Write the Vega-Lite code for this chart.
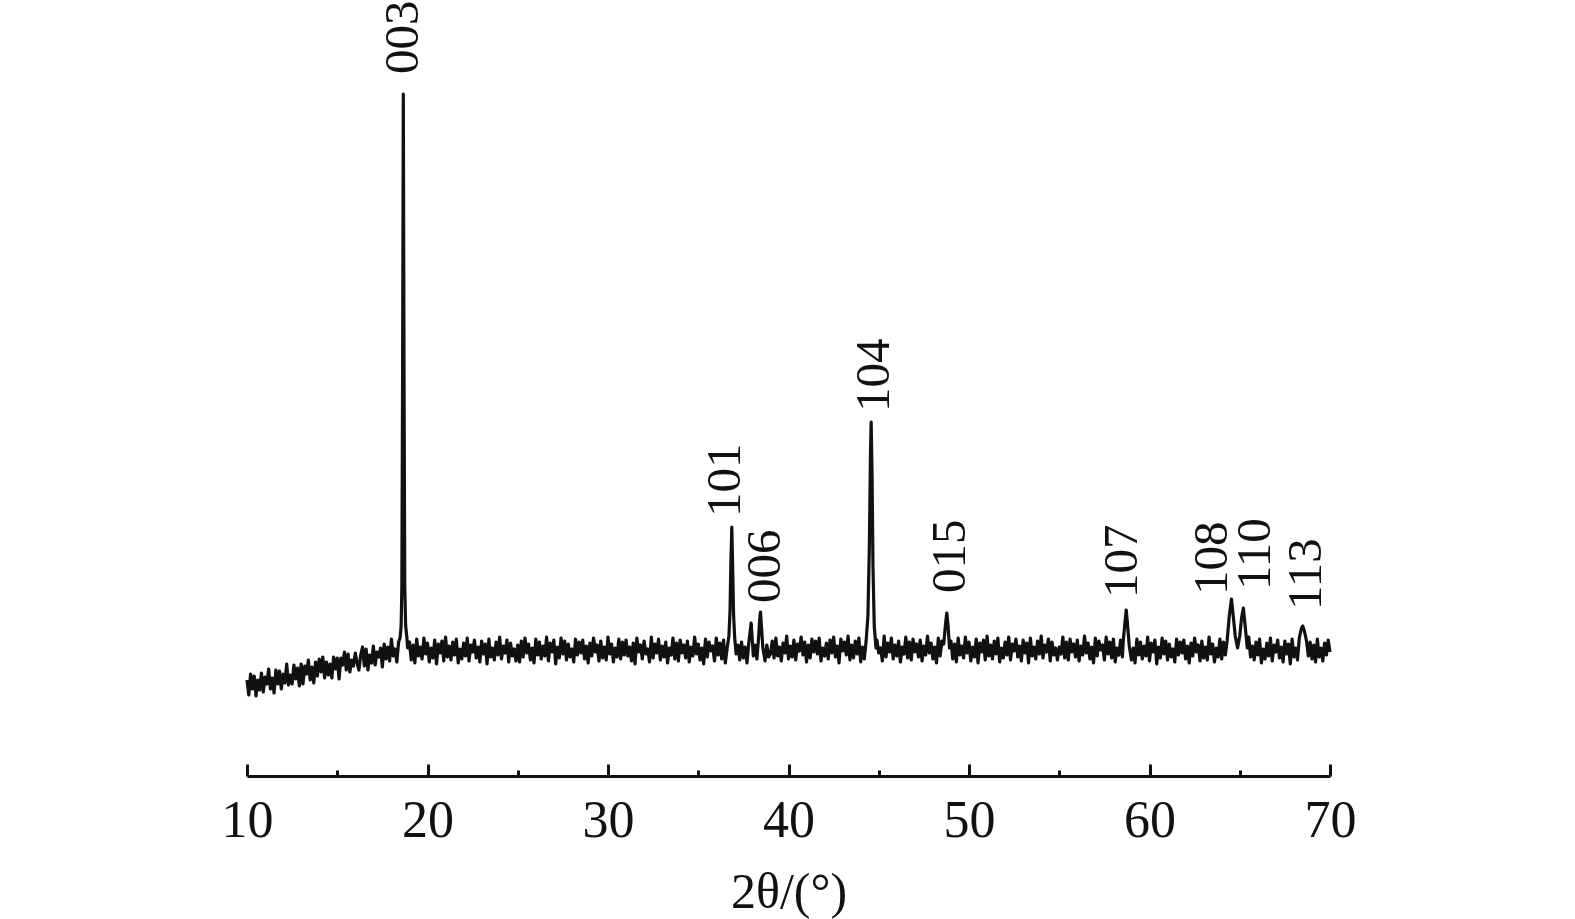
{
"$schema": "https://vega.github.io/schema/vega-lite/v6.json",
"width": 1083, "height": 700,
"autosize": {"type": "none"},
"padding": {"left": 247, "top": 76, "right": 245, "bottom": 143},
"background": "white",
"config": {"view": {"stroke": null}, "font": "Liberation Serif"},
"layer": [
{"data": {"values": [
{"t":10.0,"i":96},{"t":10.1,"i":81},{"t":10.2,"i":102},{"t":10.3,"i":87},{"t":10.4,"i":100},{"t":10.5,"i":80},{"t":10.6,"i":96},{"t":10.7,"i":86},{"t":10.8,"i":103},{"t":10.9,"i":84},
{"t":11.0,"i":99},{"t":11.1,"i":92},{"t":11.2,"i":107},{"t":11.3,"i":87},{"t":11.4,"i":98},{"t":11.5,"i":83},{"t":11.6,"i":106},{"t":11.7,"i":92},{"t":11.8,"i":105},{"t":11.9,"i":87},
{"t":12.0,"i":102},{"t":12.1,"i":93},{"t":12.2,"i":112},{"t":12.3,"i":91},{"t":12.4,"i":101},{"t":12.5,"i":92},{"t":12.6,"i":111},{"t":12.7,"i":97},{"t":12.8,"i":108},{"t":12.9,"i":90},
{"t":13.0,"i":112},{"t":13.1,"i":92},{"t":13.2,"i":110},{"t":13.3,"i":102},{"t":13.4,"i":116},{"t":13.5,"i":96},{"t":13.6,"i":109},{"t":13.7,"i":93},{"t":13.8,"i":114},{"t":13.9,"i":100},
{"t":14.0,"i":117},{"t":14.1,"i":104},{"t":14.2,"i":119},{"t":14.3,"i":98},{"t":14.4,"i":114},{"t":14.5,"i":101},{"t":14.6,"i":112},{"t":14.7,"i":98},{"t":14.8,"i":119},{"t":14.9,"i":107},
{"t":15.0,"i":118},{"t":15.1,"i":97},{"t":15.2,"i":118},{"t":15.3,"i":111},{"t":15.4,"i":124},{"t":15.5,"i":106},{"t":15.6,"i":122},{"t":15.7,"i":104},{"t":15.8,"i":116},{"t":15.9,"i":110},
{"t":16.0,"i":123},{"t":16.1,"i":113},{"t":16.2,"i":106},{"t":16.3,"i":121},{"t":16.4,"i":129},{"t":16.5,"i":110},{"t":16.6,"i":127},{"t":16.7,"i":106},{"t":16.8,"i":121},{"t":16.9,"i":113},
{"t":17.0,"i":130},{"t":17.1,"i":111},{"t":17.2,"i":124},{"t":17.3,"i":119},{"t":17.4,"i":128},{"t":17.5,"i":109},{"t":17.6,"i":132},{"t":17.7,"i":117},{"t":17.8,"i":129},{"t":17.9,"i":115},
{"t":18.0,"i":137},{"t":18.1,"i":120},{"t":18.2,"i":127},{"t":18.3,"i":114},{"t":18.4,"i":134},
{"t":18.48,"i":138},{"t":18.54,"i":150},{"t":18.58,"i":190},{"t":18.62,"i":400},{"t":18.66,"i":682},{"t":18.7,"i":400},{"t":18.74,"i":190},{"t":18.79,"i":150},{"t":18.85,"i":140},{"t":18.9,"i":128},
{"t":19.0,"i":134},{"t":19.1,"i":116},{"t":19.2,"i":131},{"t":19.3,"i":113},{"t":19.4,"i":137},{"t":19.5,"i":120},{"t":19.6,"i":129},{"t":19.7,"i":117},{"t":19.8,"i":138},{"t":19.9,"i":122},
{"t":20.0,"i":133},{"t":20.1,"i":114},{"t":20.2,"i":128},{"t":20.3,"i":118},{"t":20.4,"i":136},{"t":20.5,"i":112},{"t":20.6,"i":132},{"t":20.7,"i":123},{"t":20.8,"i":135},{"t":20.9,"i":115},
{"t":21.0,"i":139},{"t":21.1,"i":119},{"t":21.2,"i":130},{"t":21.3,"i":116},{"t":21.4,"i":134},{"t":21.5,"i":121},{"t":21.6,"i":137},{"t":21.7,"i":113},{"t":21.8,"i":127},{"t":21.9,"i":117},
{"t":22.0,"i":133},{"t":22.1,"i":120},{"t":22.2,"i":138},{"t":22.3,"i":115},{"t":22.4,"i":131},{"t":22.5,"i":124},{"t":22.6,"i":136},{"t":22.7,"i":118},{"t":22.8,"i":129},{"t":22.9,"i":114},
{"t":23.0,"i":135},{"t":23.1,"i":122},{"t":23.2,"i":132},{"t":23.3,"i":112},{"t":23.4,"i":137},{"t":23.5,"i":119},{"t":23.6,"i":128},{"t":23.7,"i":116},{"t":23.8,"i":134},{"t":23.9,"i":121},
{"t":24.0,"i":139},{"t":24.1,"i":117},{"t":24.2,"i":130},{"t":24.3,"i":123},{"t":24.4,"i":136},{"t":24.5,"i":114},{"t":24.6,"i":133},{"t":24.7,"i":120},{"t":24.8,"i":127},{"t":24.9,"i":115},
{"t":25.0,"i":131},{"t":25.1,"i":114},{"t":25.2,"i":135},{"t":25.3,"i":119},{"t":25.4,"i":138},{"t":25.5,"i":123},{"t":25.6,"i":132},{"t":25.7,"i":116},{"t":25.8,"i":128},{"t":25.9,"i":113},
{"t":26.0,"i":137},{"t":26.1,"i":121},{"t":26.2,"i":134},{"t":26.3,"i":117},{"t":26.4,"i":130},{"t":26.5,"i":120},{"t":26.6,"i":139},{"t":26.7,"i":115},{"t":26.8,"i":133},{"t":26.9,"i":124},
{"t":27.0,"i":136},{"t":27.1,"i":112},{"t":27.2,"i":129},{"t":27.3,"i":118},{"t":27.4,"i":138},{"t":27.5,"i":122},{"t":27.6,"i":135},{"t":27.7,"i":116},{"t":27.8,"i":132},{"t":27.9,"i":119},
{"t":28.0,"i":127},{"t":28.1,"i":114},{"t":28.2,"i":137},{"t":28.3,"i":121},{"t":28.4,"i":134},{"t":28.5,"i":123},{"t":28.6,"i":136},{"t":28.7,"i":117},{"t":28.8,"i":130},{"t":28.9,"i":113},
{"t":29.0,"i":133},{"t":29.1,"i":120},{"t":29.2,"i":138},{"t":29.3,"i":124},{"t":29.4,"i":131},{"t":29.5,"i":115},{"t":29.6,"i":135},{"t":29.7,"i":118},{"t":29.8,"i":129},{"t":29.9,"i":116},
{"t":30.0,"i":139},{"t":30.1,"i":122},{"t":30.2,"i":132},{"t":30.3,"i":114},{"t":30.4,"i":128},{"t":30.5,"i":119},{"t":30.6,"i":137},{"t":30.7,"i":117},{"t":30.8,"i":134},{"t":30.9,"i":121},
{"t":31.0,"i":136},{"t":31.1,"i":120},{"t":31.2,"i":129},{"t":31.3,"i":115},{"t":31.4,"i":133},{"t":31.5,"i":112},{"t":31.6,"i":138},{"t":31.7,"i":124},{"t":31.8,"i":131},{"t":31.9,"i":117},
{"t":32.0,"i":135},{"t":32.1,"i":122},{"t":32.2,"i":127},{"t":32.3,"i":114},{"t":32.4,"i":139},{"t":32.5,"i":118},{"t":32.6,"i":132},{"t":32.7,"i":123},{"t":32.8,"i":137},{"t":32.9,"i":116},
{"t":33.0,"i":130},{"t":33.1,"i":119},{"t":33.2,"i":134},{"t":33.3,"i":113},{"t":33.4,"i":128},{"t":33.5,"i":121},{"t":33.6,"i":138},{"t":33.7,"i":117},{"t":33.8,"i":133},{"t":33.9,"i":115},
{"t":34.0,"i":136},{"t":34.1,"i":123},{"t":34.2,"i":131},{"t":34.3,"i":118},{"t":34.4,"i":135},{"t":34.5,"i":114},{"t":34.6,"i":129},{"t":34.7,"i":120},{"t":34.8,"i":139},{"t":34.9,"i":122},
{"t":35.0,"i":132},{"t":35.1,"i":116},{"t":35.2,"i":128},{"t":35.3,"i":112},{"t":35.4,"i":137},{"t":35.5,"i":119},{"t":35.6,"i":134},{"t":35.7,"i":125},{"t":35.8,"i":130},{"t":35.9,"i":115},
{"t":36.0,"i":138},{"t":36.1,"i":121},{"t":36.2,"i":133},{"t":36.3,"i":117},{"t":36.4,"i":136},{"t":36.5,"i":113},
{"t":36.6,"i":128},{"t":36.7,"i":140},{"t":36.76,"i":165},{"t":36.81,"i":215},{"t":36.86,"i":249},{"t":36.91,"i":205},{"t":36.96,"i":160},{"t":37.02,"i":138},{"t":37.1,"i":122},
{"t":37.2,"i":131},{"t":37.3,"i":116},{"t":37.4,"i":134},{"t":37.5,"i":118},{"t":37.6,"i":129},{"t":37.7,"i":113},{"t":37.8,"i":133},{"t":37.88,"i":145},{"t":37.93,"i":153},{"t":37.98,"i":140},{"t":38.05,"i":120},{"t":38.15,"i":131},{"t":38.25,"i":117},{"t":38.35,"i":140},{"t":38.41,"i":158},{"t":38.45,"i":164},{"t":38.5,"i":150},{"t":38.58,"i":128},{"t":38.7,"i":115},{"t":38.8,"i":131},{"t":38.9,"i":119},
{"t":39.0,"i":122},{"t":39.1,"i":135},{"t":39.2,"i":118},{"t":39.3,"i":138},{"t":39.4,"i":120},{"t":39.5,"i":129},{"t":39.6,"i":115},{"t":39.7,"i":133},{"t":39.8,"i":123},{"t":39.9,"i":140},
{"t":40.0,"i":117},{"t":40.1,"i":130},{"t":40.2,"i":119},{"t":40.3,"i":136},{"t":40.4,"i":116},{"t":40.5,"i":132},{"t":40.6,"i":125},{"t":40.7,"i":139},{"t":40.8,"i":121},{"t":40.9,"i":134},
{"t":41.0,"i":114},{"t":41.1,"i":131},{"t":41.2,"i":118},{"t":41.3,"i":137},{"t":41.4,"i":124},{"t":41.5,"i":135},{"t":41.6,"i":122},{"t":41.7,"i":138},{"t":41.8,"i":115},{"t":41.9,"i":128},
{"t":42.0,"i":120},{"t":42.1,"i":133},{"t":42.2,"i":117},{"t":42.3,"i":136},{"t":42.4,"i":123},{"t":42.5,"i":139},{"t":42.6,"i":119},{"t":42.7,"i":130},{"t":42.8,"i":113},{"t":42.9,"i":137},
{"t":43.0,"i":125},{"t":43.1,"i":134},{"t":43.2,"i":121},{"t":43.3,"i":140},{"t":43.4,"i":116},{"t":43.5,"i":131},{"t":43.6,"i":118},{"t":43.7,"i":135},{"t":43.8,"i":122},{"t":43.9,"i":138},
{"t":44.0,"i":114},{"t":44.1,"i":129},{"t":44.2,"i":117},
{"t":44.3,"i":135},{"t":44.4,"i":160},{"t":44.48,"i":230},{"t":44.54,"i":320},{"t":44.58,"i":354},{"t":44.63,"i":300},{"t":44.68,"i":210},{"t":44.75,"i":150},{"t":44.85,"i":128},
{"t":44.9,"i":136},{"t":45.0,"i":123},{"t":45.1,"i":128},{"t":45.2,"i":115},{"t":45.3,"i":140},{"t":45.4,"i":119},{"t":45.5,"i":133},{"t":45.6,"i":124},{"t":45.7,"i":138},{"t":45.8,"i":117},{"t":45.9,"i":131},
{"t":46.0,"i":120},{"t":46.1,"i":135},{"t":46.2,"i":114},{"t":46.3,"i":129},{"t":46.4,"i":122},{"t":46.5,"i":139},{"t":46.6,"i":118},{"t":46.7,"i":134},{"t":46.8,"i":116},{"t":46.9,"i":137},
{"t":47.0,"i":124},{"t":47.1,"i":132},{"t":47.2,"i":119},{"t":47.3,"i":136},{"t":47.4,"i":115},{"t":47.5,"i":130},{"t":47.6,"i":121},{"t":47.7,"i":140},{"t":47.8,"i":123},{"t":47.9,"i":133},
{"t":48.0,"i":117},{"t":48.1,"i":129},{"t":48.2,"i":113},{"t":48.3,"i":138},{"t":48.4,"i":120},{"t":48.5,"i":135},
{"t":48.6,"i":132},{"t":48.7,"i":152},{"t":48.77,"i":163},{"t":48.84,"i":150},{"t":48.92,"i":128},
{"t":49.0,"i":135},{"t":49.1,"i":117},{"t":49.2,"i":132},{"t":49.3,"i":114},{"t":49.4,"i":138},{"t":49.5,"i":121},{"t":49.6,"i":130},{"t":49.7,"i":118},{"t":49.8,"i":139},{"t":49.9,"i":123},
{"t":50.0,"i":134},{"t":50.1,"i":115},{"t":50.2,"i":129},{"t":50.3,"i":119},{"t":50.4,"i":137},{"t":50.5,"i":113},{"t":50.6,"i":133},{"t":50.7,"i":124},{"t":50.8,"i":136},{"t":50.9,"i":116},
{"t":51.0,"i":140},{"t":51.1,"i":120},{"t":51.2,"i":131},{"t":51.3,"i":117},{"t":51.4,"i":135},{"t":51.5,"i":122},{"t":51.6,"i":138},{"t":51.7,"i":114},{"t":51.8,"i":128},{"t":51.9,"i":118},
{"t":52.0,"i":134},{"t":52.1,"i":121},{"t":52.2,"i":139},{"t":52.3,"i":116},{"t":52.4,"i":132},{"t":52.5,"i":125},{"t":52.6,"i":137},{"t":52.7,"i":119},{"t":52.8,"i":130},{"t":52.9,"i":115},
{"t":53.0,"i":136},{"t":53.1,"i":123},{"t":53.2,"i":133},{"t":53.3,"i":113},{"t":53.4,"i":138},{"t":53.5,"i":120},{"t":53.6,"i":129},{"t":53.7,"i":117},{"t":53.8,"i":135},{"t":53.9,"i":122},
{"t":54.0,"i":140},{"t":54.1,"i":118},{"t":54.2,"i":131},{"t":54.3,"i":124},{"t":54.4,"i":137},{"t":54.5,"i":115},{"t":54.6,"i":134},{"t":54.7,"i":121},{"t":54.8,"i":128},{"t":54.9,"i":116},
{"t":55.0,"i":129},{"t":55.1,"i":122},{"t":55.2,"i":139},{"t":55.3,"i":118},{"t":55.4,"i":134},{"t":55.5,"i":116},{"t":55.6,"i":137},{"t":55.7,"i":124},{"t":55.8,"i":132},{"t":55.9,"i":119},
{"t":56.0,"i":136},{"t":56.1,"i":115},{"t":56.2,"i":130},{"t":56.3,"i":121},{"t":56.4,"i":140},{"t":56.5,"i":123},{"t":56.6,"i":133},{"t":56.7,"i":117},{"t":56.8,"i":129},{"t":56.9,"i":113},
{"t":57.0,"i":138},{"t":57.1,"i":120},{"t":57.2,"i":135},{"t":57.3,"i":126},{"t":57.4,"i":131},{"t":57.5,"i":116},{"t":57.6,"i":139},{"t":57.7,"i":122},{"t":57.8,"i":134},{"t":57.9,"i":118},
{"t":58.0,"i":137},{"t":58.1,"i":114},{"t":58.2,"i":128},{"t":58.3,"i":121},{"t":58.4,"i":136},{"t":58.5,"i":119},
{"t":58.55,"i":136},{"t":58.65,"i":155},{"t":58.71,"i":166},{"t":58.78,"i":152},{"t":58.88,"i":130},
{"t":59.0,"i":116},{"t":59.1,"i":128},{"t":59.2,"i":113},{"t":59.3,"i":137},{"t":59.4,"i":121},{"t":59.5,"i":134},{"t":59.6,"i":117},{"t":59.7,"i":130},{"t":59.8,"i":120},{"t":59.9,"i":139},
{"t":60.0,"i":115},{"t":60.1,"i":133},{"t":60.2,"i":124},{"t":60.3,"i":136},{"t":60.4,"i":112},{"t":60.5,"i":129},{"t":60.6,"i":118},{"t":60.7,"i":138},{"t":60.8,"i":122},{"t":60.9,"i":135},
{"t":61.0,"i":116},{"t":61.1,"i":132},{"t":61.2,"i":119},{"t":61.3,"i":127},{"t":61.4,"i":114},{"t":61.5,"i":137},{"t":61.6,"i":121},{"t":61.7,"i":134},{"t":61.8,"i":123},{"t":61.9,"i":136},
{"t":62.0,"i":117},{"t":62.1,"i":130},{"t":62.2,"i":113},{"t":62.3,"i":133},{"t":62.4,"i":120},{"t":62.5,"i":138},{"t":62.6,"i":124},{"t":62.7,"i":131},{"t":62.8,"i":115},{"t":62.9,"i":135},
{"t":63.0,"i":118},{"t":63.1,"i":129},{"t":63.2,"i":116},{"t":63.3,"i":139},{"t":63.4,"i":122},{"t":63.5,"i":132},{"t":63.6,"i":114},{"t":63.7,"i":128},{"t":63.8,"i":119},{"t":63.9,"i":137},
{"t":64.0,"i":117},{"t":64.1,"i":134},{"t":64.2,"i":121},
{"t":64.3,"i":135},{"t":64.42,"i":160},{"t":64.54,"i":177},{"t":64.64,"i":160},{"t":64.75,"i":140},{"t":64.88,"i":128},{"t":65.0,"i":140},{"t":65.1,"i":158},{"t":65.2,"i":168},{"t":65.3,"i":150},{"t":65.42,"i":128},
{"t":65.5,"i":139},{"t":65.6,"i":119},{"t":65.7,"i":130},{"t":65.8,"i":116},{"t":65.9,"i":134},{"t":66.0,"i":121},{"t":66.1,"i":137},{"t":66.2,"i":113},{"t":66.3,"i":127},{"t":66.4,"i":117},
{"t":66.5,"i":133},{"t":66.6,"i":120},{"t":66.7,"i":138},{"t":66.8,"i":115},{"t":66.9,"i":131},{"t":67.0,"i":124},{"t":67.1,"i":136},{"t":67.2,"i":118},{"t":67.3,"i":129},{"t":67.4,"i":114},
{"t":67.5,"i":135},{"t":67.6,"i":122},{"t":67.7,"i":132},{"t":67.8,"i":112},{"t":67.9,"i":137},{"t":68.0,"i":119},{"t":68.1,"i":128},{"t":68.2,"i":116},
{"t":68.3,"i":138},{"t":68.42,"i":148},{"t":68.49,"i":150},{"t":68.58,"i":145},{"t":68.7,"i":135},
{"t":68.8,"i":120},{"t":68.9,"i":134},{"t":69.0,"i":117},{"t":69.1,"i":131},{"t":69.2,"i":114},{"t":69.3,"i":137},{"t":69.4,"i":119},{"t":69.5,"i":128},{"t":69.6,"i":115},{"t":69.7,"i":133},{"t":69.8,"i":121},{"t":69.9,"i":136},{"t":70.0,"i":124}
]},
"mark": {"type": "line", "color": "#111111", "strokeWidth": 3.2, "strokeJoin": "round"},
"encoding": {
"x": {"field": "t", "type": "quantitative", "scale": {"domain": [10, 70], "nice": false, "zero": false},
"axis": {"values": [10,15,20,25,30,35,40,45,50,55,60,65,70], "title": "2θ/(°)", "grid": false,
"labelExpr": "datum.value % 10 === 0 ? datum.label : ''",
"tickSize": {"condition": {"test": "datum.value % 10 === 0", "value": -12}, "value": -6},
"tickWidth": 3, "tickColor": "#111111", "domainWidth": 3, "domainColor": "#111111",
"labelFont": "Liberation Serif", "labelFontSize": 52, "labelColor": "#111111", "labelPadding": 31, "labelFlush": false, "labelOverlap": false,
"titleFont": "Liberation Serif", "titleFontSize": 50, "titleFontWeight": "normal", "titleColor": "#111111", "titlePadding": 15}},
"y": {"field": "i", "type": "quantitative", "scale": {"domain": [0, 700]}, "axis": null}
}},
{"data": {"values": [
{"t":18.63,"i":702,"label":"003"},
{"t":36.47,"i":259,"label":"101"},
{"t":38.69,"i":173,"label":"006"},
{"t":44.76,"i":364,"label":"104"},
{"t":48.93,"i":183,"label":"015"},
{"t":58.5,"i":178,"label":"107"},
{"t":63.49,"i":181,"label":"108"},
{"t":65.83,"i":186,"label":"110"},
{"t":68.65,"i":166,"label":"113"}
]},
"mark": {"type": "text", "angle": 270, "align": "left", "baseline": "middle", "font": "Liberation Serif", "fontSize": 49, "color": "#111111"},
"encoding": {
"x": {"field": "t", "type": "quantitative"},
"y": {"field": "i", "type": "quantitative"},
"text": {"field": "label"}
}}
]
}
